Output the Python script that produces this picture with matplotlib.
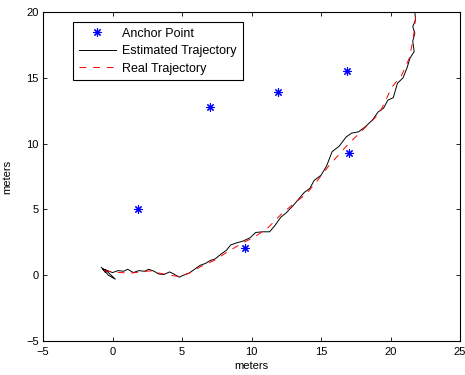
import matplotlib
matplotlib.use("Agg")
import matplotlib.pyplot as plt

plt.rcParams["font.family"] = ["Liberation Sans", "DejaVu Sans"]

# anchor points (meters)
anchor_x = [1.8, 7.0, 9.5, 11.9, 16.9, 17.0]
anchor_y = [5.0, 12.8, 2.1, 13.9, 15.5, 9.3]

# real trajectory
real_x = [-0.6, 0.0, 0.6, 1.25, 2.0, 2.7, 3.4, 4.1, 4.8, 5.5, 6.3, 7.35, 8.3,
          9.36, 10.2, 11.15, 12.2, 13.2, 13.95, 14.67, 15.6, 16.9, 17.76,
          19.2, 20.1, 20.8, 21.35, 21.56, 21.7, 21.8, 21.85]
real_y = [0.35, 0.25, 0.2, 0.15, 0.25, 0.33, 0.15, 0.0, -0.1, 0.15, 0.63, 1.14,
          1.8, 2.45, 2.9, 3.57, 4.7, 5.57, 6.2, 7.1, 8.36, 9.9, 10.8, 12.3,
          14.3, 15.2, 16.5, 17.6, 18.5, 19.6, 20.0]

# estimated trajectory
est_x = [-0.8, -0.5, -0.7, -0.3, 0.2, -0.4, -0.6, 0.0, 0.4, 0.8, 1.1, 1.5,
         1.9, 2.3, 2.6, 3.0, 3.3, 3.7, 4.1, 4.4, 4.8, 5.1, 5.5, 5.9, 6.3,
         6.7, 7.0, 7.4, 7.8, 8.2, 8.5, 8.9, 9.4, 9.9, 10.3, 10.8, 11.3, 11.7,
         12.1, 12.5, 13.0, 13.4, 13.8, 14.2, 14.5, 15.0, 15.4, 15.8, 16.3,
         16.8, 17.2, 17.7, 18.2, 18.7, 19.1, 19.5, 19.8, 20.2, 20.5, 20.9,
         21.2, 21.4, 21.7, 21.6, 21.75, 21.6, 21.8, 21.75]
est_y = [0.6, 0.2, 0.5, 0.0, -0.3, 0.3, 0.45, 0.2, 0.35, 0.3, 0.45, 0.2,
         0.35, 0.3, 0.45, 0.3, 0.1, 0.05, 0.25, 0.1, -0.15, 0.0, 0.15, 0.45,
         0.75, 0.9, 1.1, 1.25, 1.6, 1.9, 2.3, 2.45, 2.6, 2.85, 3.25, 3.3, 3.3,
         3.8, 4.4, 4.75, 5.3, 5.8, 6.3, 6.6, 7.2, 7.6, 8.3, 9.4, 9.8, 10.5,
         10.8, 10.9, 11.3, 11.8, 12.4, 12.7, 13.3, 13.5, 14.6, 15.0, 15.8,
         16.5, 17.0, 17.8, 18.4, 18.9, 19.4, 20.0]

xticks = [-5, 0, 5, 10, 15, 20, 25]
yticks = [-5, 0, 5, 10, 15, 20]

fig = plt.figure(figsize=(4.65, 3.75), dpi=100)
ax = fig.add_axes([0.0925, 0.0907, 0.8968, 0.877])

ax.plot(anchor_x, anchor_y, linestyle="none", marker=(8, 2, 0), markersize=6,
        color="#0000ff", markeredgewidth=0.8, label="Anchor Point")
ax.plot(est_x, est_y, color="black", linewidth=0.7, label="Estimated Trajectory")
ax.plot(real_x, real_y, color="#ff0000", linewidth=0.7, linestyle=(0, (7, 7)),
        label="Real Trajectory")

ax.set_xlim(-5, 25)
ax.set_ylim(-5, 20)
ax.set_xticks(xticks)
ax.set_yticks(yticks)
ax.tick_params(direction="in", top=True, right=True, labelsize=8,
               length=3, width=0.6, pad=3)
ax.tick_params(axis="x", pad=4.5)
for s in ax.spines.values():
    s.set_linewidth(0.8)

ax.set_xlabel("meters", fontsize=8, labelpad=3)
ax.set_ylabel("meters", fontsize=8, labelpad=10)

leg = ax.legend(loc="upper left", bbox_to_anchor=(0.072, 0.97), borderaxespad=0,
                fontsize=9, handlelength=3.0, fancybox=False, framealpha=1,
                edgecolor="black", borderpad=0.45, labelspacing=0.45,
                handletextpad=0.5)
leg.get_frame().set_linewidth(0.8)

fig.savefig("out.png", dpi=100)
